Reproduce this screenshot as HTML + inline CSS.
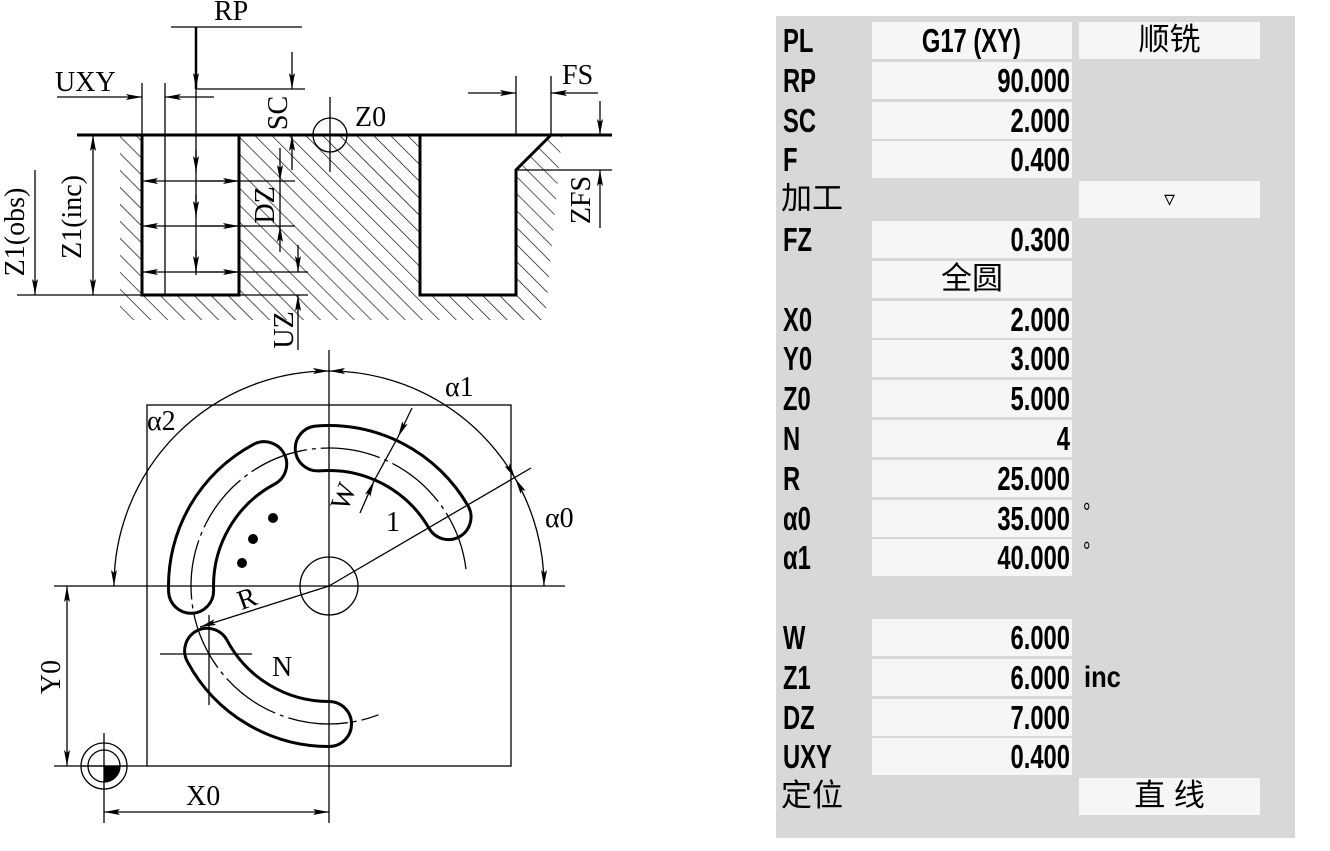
<!DOCTYPE html>
<html><head><meta charset="utf-8"><style>
html,body{margin:0;padding:0;background:#fff;}
body{width:1330px;height:851px;position:relative;overflow:hidden;}
#panel{position:absolute;left:776px;top:16px;width:519px;height:822px;background:#d8d8d8;}
.cell{position:absolute;background:#f6f6f6;height:37px;}
.lab{position:absolute;left:7px;font-family:"Liberation Sans",sans-serif;font-weight:bold;font-size:33px;line-height:37px;transform:scaleX(0.72);transform-origin:left center;color:#000;}
.val{position:absolute;width:280px;left:15px;text-align:right;font-family:"Liberation Sans",sans-serif;font-weight:bold;font-size:33px;line-height:37px;transform:scaleX(0.72);transform-origin:right center;color:#000;right:auto;}
.cjk{position:absolute;font-family:"Liberation Sans","Noto Sans CJK SC",sans-serif;font-weight:normal;font-size:31px;line-height:37px;color:#000;}
svg text{font-family:"Liberation Serif",serif;font-size:28px;fill:#000;}
</style></head><body>
<svg id="dw" width="640" height="851" style="position:absolute;left:0;top:0" xmlns="http://www.w3.org/2000/svg">
<defs>
<marker id="ar" viewBox="0 0 16 6" refX="16" refY="3" markerWidth="16" markerHeight="6" markerUnits="userSpaceOnUse" orient="auto-start-reverse"><path d="M0,0 L16,3 L0,6 L3,3z" fill="#000"/></marker>
<pattern id="hatch" width="12" height="12" patternUnits="userSpaceOnUse" patternTransform="rotate(-45)"><line x1="0" y1="0" x2="0" y2="12" stroke="#000" stroke-width="1.3"/></pattern>
<clipPath id="hc"><polygon points="120,135 562,135 545,320 120,320"/></clipPath>
</defs>
<rect x="100" y="135" width="480" height="190" fill="url(#hatch)" clip-path="url(#hc)"/>
<rect x="142" y="135" width="97" height="160" fill="#fff"/>
<polygon points="420,135 551,135 516,170 516,295 420,295" fill="#fff"/>
<g stroke="#000" fill="none">
<line x1="77" y1="135" x2="612" y2="135" stroke-width="3"/>
<polyline points="142,135 142,295 239,295 239,135" stroke-width="3"/>
<polyline points="420,135 420,295 516,295 516,170 551,135" stroke-width="3"/>
<line x1="142" y1="83" x2="142" y2="135" stroke-width="1.3"/>
<line x1="165" y1="83" x2="165" y2="295" stroke-width="1.3"/>
<line x1="171" y1="27" x2="302" y2="27" stroke-width="1.3"/>
<line x1="196" y1="27" x2="196" y2="89" stroke-width="2.5" marker-end="url(#ar)"/>
<line x1="196" y1="89" x2="305" y2="89" stroke-width="1.3"/>
<line x1="196" y1="89" x2="196" y2="275" stroke-width="1.3"/>
<line x1="196" y1="150" x2="196" y2="172" stroke-width="1.3" marker-end="url(#ar)"/>
<line x1="196" y1="195" x2="196" y2="217" stroke-width="1.3" marker-end="url(#ar)"/>
<line x1="196" y1="250" x2="196" y2="272" stroke-width="1.3" marker-end="url(#ar)"/>
<line x1="292" y1="52" x2="292" y2="89" stroke-width="1.3" marker-end="url(#ar)"/>
<line x1="292" y1="170" x2="292" y2="135" stroke-width="1.3" marker-end="url(#ar)"/>
<circle cx="330" cy="135" r="17" stroke-width="1.3"/>
<line x1="330" y1="97" x2="330" y2="172" stroke-width="1.3"/>
<line x1="57" y1="97" x2="142" y2="97" stroke-width="1.3" marker-end="url(#ar)"/>
<line x1="214" y1="97" x2="165" y2="97" stroke-width="1.3" marker-end="url(#ar)"/>
<line x1="142" y1="181" x2="295" y2="181" stroke-width="1.3" marker-start="url(#ar)"/>
<line x1="200" y1="181" x2="239" y2="181" stroke-width="1.3" marker-end="url(#ar)"/>
<line x1="142" y1="226" x2="295" y2="226" stroke-width="1.3" marker-start="url(#ar)"/>
<line x1="200" y1="226" x2="239" y2="226" stroke-width="1.3" marker-end="url(#ar)"/>
<line x1="142" y1="272" x2="308" y2="272" stroke-width="1.3" marker-start="url(#ar)"/>
<line x1="200" y1="272" x2="239" y2="272" stroke-width="1.3" marker-end="url(#ar)"/>
<line x1="280" y1="148" x2="280" y2="181" stroke-width="1.3" marker-end="url(#ar)"/>
<line x1="280" y1="252" x2="280" y2="226" stroke-width="1.3" marker-end="url(#ar)"/>
<line x1="280" y1="181" x2="280" y2="226" stroke-width="1.3"/>
<line x1="298" y1="245" x2="298" y2="272" stroke-width="1.3" marker-end="url(#ar)"/>
<line x1="298" y1="350" x2="298" y2="295" stroke-width="1.3" marker-end="url(#ar)"/>
<line x1="17" y1="295" x2="308" y2="295" stroke-width="1.3"/>
<line x1="93" y1="135" x2="93" y2="295" stroke-width="1.3" marker-start="url(#ar)" marker-end="url(#ar)"/>
<line x1="35" y1="170" x2="35" y2="295" stroke-width="1.3" marker-end="url(#ar)"/>
<line x1="516" y1="76" x2="516" y2="135" stroke-width="1.3"/>
<line x1="551" y1="76" x2="551" y2="135" stroke-width="1.3"/>
<line x1="468" y1="93" x2="516" y2="93" stroke-width="1.3" marker-end="url(#ar)"/>
<line x1="598" y1="93" x2="551" y2="93" stroke-width="1.3" marker-end="url(#ar)"/>
<line x1="516" y1="170" x2="612" y2="170" stroke-width="1.3"/>
<line x1="600" y1="101" x2="600" y2="135" stroke-width="1.3" marker-end="url(#ar)"/>
<line x1="600" y1="228" x2="600" y2="170" stroke-width="1.3" marker-end="url(#ar)"/>
</g>
<text x="214" y="20">RP</text>
<text x="55" y="91">UXY</text>
<text x="355" y="126">Z0</text>
<text x="562" y="84">FS</text>
<text transform="translate(287,113) rotate(-90)" text-anchor="middle">SC</text>
<text transform="translate(274,205) rotate(-90)" text-anchor="middle">DZ</text>
<text transform="translate(293,330) rotate(-90)" text-anchor="middle">UZ</text>
<text transform="translate(81,217) rotate(-90)" text-anchor="middle">Z1(inc)</text>
<text transform="translate(24,232) rotate(-90)" text-anchor="middle">Z1(obs)</text>
<text transform="translate(590,200) rotate(-90)" text-anchor="middle">ZFS</text>

<g stroke="#000" fill="none" stroke-width="1.3">
<rect x="147" y="405" width="364" height="361"/>
<line x1="54" y1="586" x2="565" y2="586"/>
<line x1="329" y1="350" x2="329" y2="823"/>
<circle cx="329" cy="586" r="29"/>
<path id="pitch" d="" stroke-dasharray="60,5,4,5"/>
<path id="a1" d="" marker-start="url(#ar)" marker-end="url(#ar)"/>
<path id="a0" d="" marker-start="url(#ar)" marker-end="url(#ar)"/>
<path id="a2" d="" marker-start="url(#ar)" marker-end="url(#ar)"/>
<line x1="329" y1="586" x2="531" y2="468"/>
<line x1="329" y1="586" x2="200" y2="627" marker-end="url(#ar)"/>
<line x1="160" y1="654" x2="252" y2="654"/>
<line x1="209" y1="615" x2="209" y2="705"/>
<line x1="412" y1="408" x2="398" y2="437" marker-end="url(#ar)"/>
<line x1="360" y1="513" x2="374" y2="481" marker-end="url(#ar)"/>
<line x1="398" y1="437" x2="374" y2="481"/>
<path id="s1" d="" stroke-width="3"/>
<path id="s2" d="" stroke-width="3"/>
<path id="s3" d="" stroke-width="3"/>
<line x1="67" y1="586" x2="67" y2="766" marker-start="url(#ar)" marker-end="url(#ar)"/>
<line x1="54" y1="766" x2="147" y2="766"/>
<line x1="104" y1="733" x2="104" y2="823"/>
<line x1="104" y1="812" x2="329" y2="812" marker-start="url(#ar)" marker-end="url(#ar)"/>
<circle cx="104" cy="766" r="23"/>
<circle cx="104" cy="766" r="16"/>
<line x1="81" y1="766" x2="127" y2="766"/>
</g>
<path d="M104,766 L120,766 A16,16 0 0 1 104,782 Z" fill="#000"/>
<circle cx="273" cy="518" r="5"/><circle cx="253" cy="539" r="5"/><circle cx="242" cy="563" r="5"/>
<text x="445" y="396">α1</text>
<text x="147" y="430">α2</text>
<text x="545" y="527">α0</text>
<text x="386" y="531">1</text>
<text transform="translate(352,500) rotate(-68)" text-anchor="middle">W</text>
<text transform="translate(250,607) rotate(-20)" text-anchor="middle">R</text>
<text x="272" y="676">N</text>
<text x="186" y="805">X0</text>
<text transform="translate(60,677) rotate(-90)" text-anchor="middle">Y0</text>
</svg>

<div id="panel"></div>
<script>
(function(){
var cx=329,cy=586;
function P(r,a){a=a*Math.PI/180;return [(cx+r*Math.cos(a)).toFixed(1),(cy-r*Math.sin(a)).toFixed(1)];}
function arc(r,a1,a2){var p=P(r,a1),q=P(r,a2);var la=(a2-a1)>180?1:0;return "M"+p+" A"+r+","+r+" 0 "+la+" 0 "+q;}
function slot(a1,a2){var r=138,h=22.5;var o1=P(r+h,a1),o2=P(r+h,a2),i2=P(r-h,a2),i1=P(r-h,a1);
return "M"+o1+" A"+(r+h)+","+(r+h)+" 0 0 0 "+o2+" A"+h+","+h+" 0 0 0 "+i2+" A"+(r-h)+","+(r-h)+" 0 0 1 "+i1+" A"+h+","+h+" 0 0 0 "+o1+"Z";}
document.getElementById('pitch').setAttribute('d',arc(138,7,291));
document.getElementById('a1').setAttribute('d',arc(215,30,90));
document.getElementById('a0').setAttribute('d',arc(215,0,30));
document.getElementById('a2').setAttribute('d',arc(215,90,180));
document.getElementById('s1').setAttribute('d',slot(30,95));
document.getElementById('s2').setAttribute('d',slot(118,182));
document.getElementById('s3').setAttribute('d',slot(208,270));
var rows=[["PL","G17 (XY)","顺铣"],["RP","90.000"],["SC","2.000"],["F","0.400"],["加工",null,"▿"],["FZ","0.300"],["","全圆"],["X0","2.000"],["Y0","3.000"],["Z0","5.000"],["N","4"],["R","25.000"],["α0","35.000","°"],["α1","40.000","°"],null,["W","6.000"],["Z1","6.000","inc"],["DZ","7.000"],["UXY","0.400"],["定位",null,"直 线"]];
var pan=document.getElementById('panel'),h="";
rows.forEach(function(r,i){if(!r)return;var t=6+i*39.8;
 var cjkL=/[^\x00-\x7f]/.test(r[0])&&r[0].indexOf("α")<0;
 if(cjkL)h+='<div class="cjk" style="left:5px;top:'+(t-1)+'px">'+r[0]+'</div>';
 else h+='<div class="lab" style="top:'+t+'px">'+r[0]+'</div>';
 if(r[1]!=null){h+='<div class="cell" style="left:96px;width:200px;top:'+t+'px"></div>';
  if(r[1]=="全圆")h+='<div class="cjk" style="left:96px;width:200px;text-align:center;top:'+(t-1)+'px">全圆</div>';
  else if(i==0)h+='<div class="lab" style="left:96px;width:276px;text-align:center;top:'+t+'px">'+r[1]+'</div>';
  else h+='<div class="val" style="left:14px;top:'+t+'px">'+r[1]+'</div>';}
 if(r[2]!=null){
  if(r[2]=="°")h+='<div class="lab" style="left:307px;top:'+(t-6)+'px;font-weight:normal;font-size:26px">°</div>';
  else if(r[2]=="inc")h+='<div class="lab" style="left:308px;top:'+t+'px;font-size:30px;transform:scaleX(0.85)">inc</div>';
  else{h+='<div class="cell" style="left:303px;width:181px;top:'+t+'px"></div>';
   h+='<div class="cjk" style="left:303px;width:181px;text-align:center;top:'+(t-1)+'px;font-size:'+(r[2]=="▿"?22:31)+'px">'+r[2]+'</div>';}}
});
pan.innerHTML=h;
})();
</script>
</body></html>
